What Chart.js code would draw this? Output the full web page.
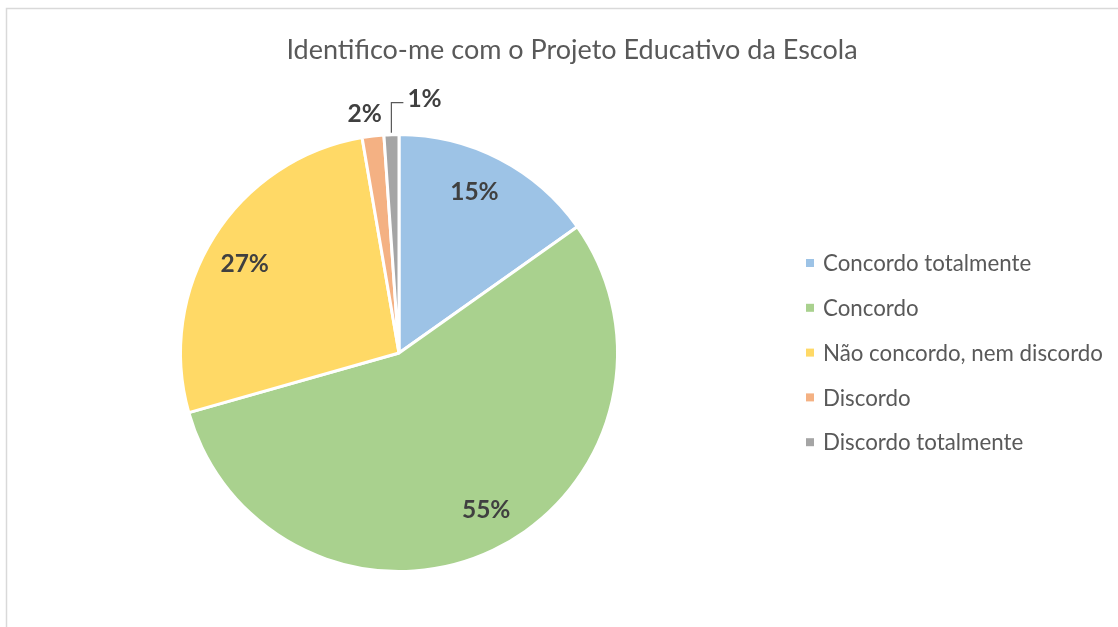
<!DOCTYPE html>
<html><head><meta charset="utf-8">
<script src="https://cdn.jsdelivr.net/npm/chart.js@4.4.1/dist/chart.umd.min.js"></script>
<style>html,body{margin:0;padding:0;background:#fff;}#wrap{width:1118px;height:627px;position:relative;}</style>
</head><body><div id="wrap"><canvas id="c" width="1118" height="627"></canvas></div>
<script>
const chartTitle = "Identifico-me com o Projeto Educativo da Escola";
const categories = ["Concordo totalmente","Concordo","Não concordo, nem discordo","Discordo","Discordo totalmente"];
const values = [15.2, 55.4, 26.7, 1.6, 1.1];
const percentLabels = ["15%","55%","27%","2%","1%"];
const colors = ["#9DC3E6","#A9D18E","#FFD966","#F4B183","#A5A5A5"];

const FONT = "Lato, sans-serif";

const deco = {
  id: 'deco',
  afterDraw(chart) {
    const ctx = chart.ctx;
    ctx.save();
    // frame
    ctx.strokeStyle = '#D9D9D9'; ctx.lineWidth = 1.5;
    ctx.beginPath(); ctx.moveTo(6.5, 627); ctx.lineTo(6.5, 8.5); ctx.lineTo(1118, 8.5); ctx.stroke();
    // title
    ctx.fillStyle = '#595959'; ctx.font = "27px " + FONT;
    ctx.textAlign = 'center'; ctx.textBaseline = 'middle';
    ctx.fillText(chartTitle, 572, 50);
    // legend
    ctx.font = "22.3px " + FONT; ctx.textAlign = 'left';
    categories.forEach((c, i) => {
      const y = 263 + i * 44.8;
      ctx.fillStyle = colors[i]; ctx.fillRect(806, y - 4, 8, 8);
      ctx.fillStyle = '#595959'; ctx.fillText(c, 823, y + 1);
    });
    // data labels
    const meta = chart.getDatasetMeta(0);
    ctx.font = "bold 24.5px " + FONT; ctx.fillStyle = '#404040';
    ctx.textAlign = 'center';
    meta.data.forEach((arc, i) => {
      const p = arc.getProps(['x','y','startAngle','endAngle','outerRadius']);
      const mid = (p.startAngle + p.endAngle) / 2 - 0.04;
      if (values[i] > 5) {
        const r = p.outerRadius * 0.815;
        const dx = i === 1 ? 4 : 0;
        ctx.fillText(percentLabels[i], p.x + Math.cos(mid) * r + dx, p.y + Math.sin(mid) * r);
      } else if (i === 3) {
        const r = p.outerRadius + 23;
        ctx.fillText(percentLabels[i], p.x + Math.cos(mid) * r + 4, p.y + Math.sin(mid) * r);
      } else {
        const m2 = mid + 0.04;
        const ex = p.x + Math.cos(m2) * (p.outerRadius + 2);
        const ey = p.y + Math.sin(m2) * (p.outerRadius + 2);
        const ty = ey - 30;
        ctx.strokeStyle = '#595959'; ctx.lineWidth = 1.2;
        ctx.beginPath(); ctx.moveTo(ex, ey); ctx.lineTo(ex, ty); ctx.lineTo(ex + 12, ty); ctx.stroke();
        ctx.textAlign = 'left';
        ctx.fillText(percentLabels[i], ex + 16, ty - 4);
        ctx.textAlign = 'center';
      }
    });
    ctx.restore();
  }
};

new Chart(document.getElementById('c'), {
  type: 'pie',
  data: { labels: categories, datasets: [{ data: values, backgroundColor: colors, borderColor: '#ffffff', borderWidth: 3 }] },
  options: {
    responsive: false, animation: false,
    layout: { padding: { left: 179, top: 133, right: 499, bottom: 54 } },
    plugins: { legend: { display: false }, title: { display: false }, tooltip: { enabled: false } }
  },
  plugins: [deco]
});
</script></body></html>
